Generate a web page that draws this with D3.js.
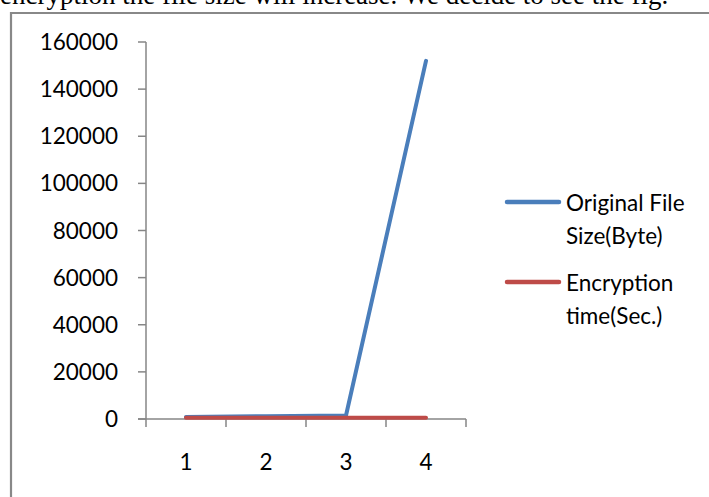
<!DOCTYPE html>
<html><head><meta charset="utf-8">
<script src="https://cdn.jsdelivr.net/npm/d3@7"></script>
<style>html,body{margin:0;padding:0;background:#fff;overflow:hidden}</style>
</head><body>
<svg id="c" width="709" height="497"></svg>
<script>
const categories = ["1", "2", "3", "4"];
const fileSize = [900, 1200, 1500, 152000];
const encTime = [500, 500, 550, 500];
const yTicks = [0, 20000, 40000, 60000, 80000, 100000, 120000, 140000, 160000];
const seriesNames = [["Original File", "Size(Byte)"], ["Encryption", "time(Sec.)"]];
const headerText = "encryption the file size will increase. We decide to see the fig.";

const svg = d3.select("#c");
const font = "Lato, 'Open Sans', sans-serif";
const axisColor = "#868686";

// header text (cut off at top, as in the reference)
svg.append("text").attr("x", 0).attr("y", 4)
  .attr("font-family", "'Liberation Serif', 'Times New Roman', serif")
  .attr("font-size", 27).attr("fill", "#000").text(headerText);

// chart border
svg.append("path").attr("d", "M11,520 V13 H720")
  .attr("fill", "none").attr("stroke", "#888").attr("stroke-width", 2.2);

const x = d3.scaleBand().domain(categories).range([146, 466]).padding(0);
const y = d3.scaleLinear().domain([0, 160000]).range([419, 42]);

// y axis
svg.append("line").attr("x1", 146).attr("x2", 146).attr("y1", y(160000)).attr("y2", y(0))
  .attr("stroke", axisColor).attr("stroke-width", 1.5);
svg.selectAll(".yt").data(yTicks).enter().append("line")
  .attr("x1", 138).attr("x2", 146).attr("y1", d => y(d)).attr("y2", d => y(d))
  .attr("stroke", axisColor).attr("stroke-width", 1.5);
svg.selectAll(".yl").data(yTicks).enter().append("text")
  .attr("x", 118).attr("y", d => y(d)).attr("dy", "0.36em")
  .attr("text-anchor", "end").attr("font-family", font).attr("font-size", 22.5)
  .attr("fill", "#000").text(d => d);

// x axis
svg.append("line").attr("x1", 138).attr("x2", 466).attr("y1", y(0)).attr("y2", y(0))
  .attr("stroke", axisColor).attr("stroke-width", 1.5);
const edges = categories.map(c => x(c)).concat([x(categories[categories.length - 1]) + x.bandwidth()]);
svg.selectAll(".xt").data(edges).enter().append("line")
  .attr("x1", d => d).attr("x2", d => d).attr("y1", y(0)).attr("y2", y(0) + 8)
  .attr("stroke", axisColor).attr("stroke-width", 1.5);
svg.selectAll(".xl").data(categories).enter().append("text")
  .attr("x", d => x(d) + x.bandwidth() / 2).attr("y", 470)
  .attr("text-anchor", "middle").attr("font-family", font).attr("font-size", 22.5)
  .attr("fill", "#000").text(d => d);

const line = d3.line().x((d, i) => x(categories[i]) + x.bandwidth() / 2).y(d => y(d));
const colors = ["#4a7ebb", "#be4b48"];
[fileSize, encTime].forEach((s, k) => {
  svg.append("path").attr("d", line(s)).attr("fill", "none")
    .attr("stroke", colors[k]).attr("stroke-width", 4)
    .attr("stroke-linecap", "round").attr("stroke-linejoin", "round");
});

// legend
const legY = [202, 282];
seriesNames.forEach((lines, k) => {
  svg.append("line").attr("x1", 507).attr("x2", 559).attr("y1", legY[k]).attr("y2", legY[k])
    .attr("stroke", colors[k]).attr("stroke-width", 4.5).attr("stroke-linecap", "round");
  lines.forEach((t, j) => {
    svg.append("text").attr("x", 566).attr("y", legY[k] + 9 + j * 33)
      .attr("font-family", font).attr("font-size", 22.5).attr("fill", "#000").text(t);
  });
});
</script>
</body></html>
